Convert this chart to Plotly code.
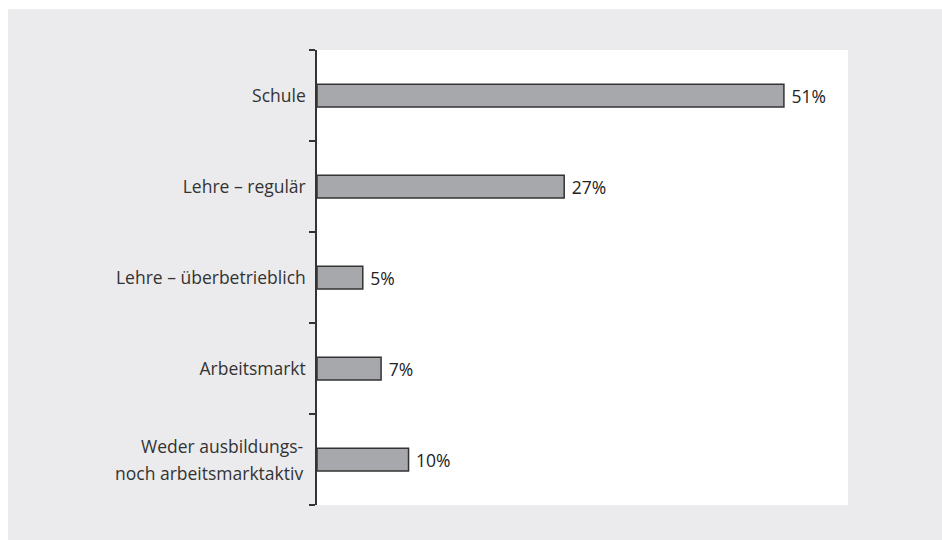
import plotly.graph_objects as go

categories = ["Schule", "Lehre – regulär", "Lehre – überbetrieblich", "Arbeitsmarkt",
              "Weder ausbildungs- noch arbeitsmarktaktiv"]
tick_text = ["Schule", "Lehre – regulär", "Lehre – überbetrieblich", "Arbeitsmarkt", ""]
last_label_lines = ["Weder ausbildungs-", "noch arbeitsmarktaktiv"]
values = [51, 27, 5, 7, 10]
labels = [f"\u00a0{v}%" for v in values]

FONT = "Open Sans"
FS = 17.5

fig = go.Figure(go.Bar(
    x=values, y=categories, orientation="h",
    text=labels, textposition="outside", constraintext="none",
    textfont=dict(size=17.5, color="#222222", family=FONT),
    marker=dict(color="#A7A8AB", line=dict(color="#333333", width=1.5)),
    width=0.25, cliponaxis=False,
))

L, R, T, B = 317, 94, 50, 35
W, H = 942, 540
pw, ph = W - L - R, H - T - B
fig.add_shape(type="rect", xref="paper", yref="paper", layer="below",
              x0=(8 - L) / pw, x1=(W - L) / pw, y0=-(B) / ph, y1=(H - B - 9) / ph,
              fillcolor="#EBEBED", line=dict(width=0))
fig.add_shape(type="rect", xref="paper", yref="paper", layer="below",
              x0=0, x1=1, y0=0, y1=1, fillcolor="white", line=dict(width=0))

for i, line in enumerate(last_label_lines):
    fig.add_annotation(xref="paper", yref="y", x=0, y=categories[-1], text=line,
                       showarrow=False, xanchor="right", yanchor="middle",
                       xshift=-12, yshift=13.5 - 27 * i,
                       font=dict(family=FONT, size=FS, color="#333333"))

fig.update_layout(
    width=W, height=H, margin=dict(l=L, r=R, t=T, b=B),
    paper_bgcolor="white", plot_bgcolor="white",
    font=dict(family=FONT, size=FS, color="#333333"),
    showlegend=False,
    xaxis=dict(range=[0, 58], visible=False, fixedrange=True),
    yaxis=dict(categoryorder="array", categoryarray=categories, autorange="reversed",
               tickmode="array", tickvals=categories, ticktext=tick_text,
               showline=True, linecolor="#333333", linewidth=1.5,
               ticks="outside", tickson="boundaries", ticklen=6, tickcolor="#333333",
               tickwidth=1.5, showgrid=False, ticklabelstandoff=6),
)
fig.write_html("out.html")
